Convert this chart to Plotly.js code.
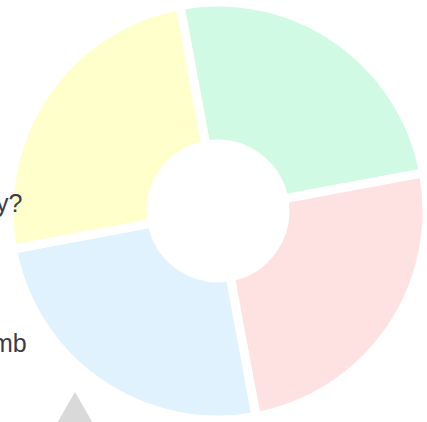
<!DOCTYPE html>
<html>
<head>
<meta charset="utf-8">
<script src="https://cdn.plot.ly/plotly-3.0.1.min.js"></script>
<style>
  html, body { margin: 0; padding: 0; background: #ffffff; }
  #chart { width: 427px; height: 422px; }
</style>
</head>
<body>
<div id="chart"></div>
<script>
// Data
const categories = ['A', 'B', 'C', 'D'];
const values = [25, 25, 25, 25];
const sliceColors = ['#d1fae5', '#fee2e2', '#e0f2fe', '#ffffcc'];
const sideLabels = ['y?', 'mb'];

const trace = {
  type: 'pie',
  labels: categories,
  values: values,
  sort: false,
  direction: 'clockwise',
  rotation: -10.5,
  hole: 0.32,
  textinfo: 'none',
  hoverinfo: 'none',
  showlegend: false,
  domain: { x: [0.021, 1], y: [0, 1] },
  marker: {
    colors: sliceColors,
    line: { color: '#ffffff', width: 9 }
  }
};

const layout = {
  width: 427,
  height: 422,
  margin: { l: 0, r: 0, t: 0, b: 0 },
  paper_bgcolor: '#ffffff',
  plot_bgcolor: '#ffffff',
  showlegend: false,
  font: { family: 'Liberation Sans, Arial, sans-serif' },
  annotations: [
    { text: sideLabels[0], xref: 'paper', yref: 'paper', x: 24 / 427, y: 1 - 203 / 422,
      xanchor: 'right', yanchor: 'middle', showarrow: false,
      font: { size: 25, color: '#383d48', family: 'Liberation Sans, Arial, sans-serif' } },
    { text: sideLabels[1], xref: 'paper', yref: 'paper', x: 29 / 427, y: 1 - 343 / 422,
      xanchor: 'right', yanchor: 'middle', showarrow: false,
      font: { size: 25, color: '#383d48', family: 'Liberation Sans, Arial, sans-serif' } }
  ],
  shapes: [
    { type: 'path', xref: 'paper', yref: 'paper',
      path: 'M 0.1756,0.0711 L 0.104,-0.055 L 0.247,-0.055 Z',
      fillcolor: '#d9d9d9', line: { width: 0 } }
  ]
};

Plotly.newPlot('chart', [trace], layout, { displayModeBar: false, staticPlot: true });
</script>
</body>
</html>
